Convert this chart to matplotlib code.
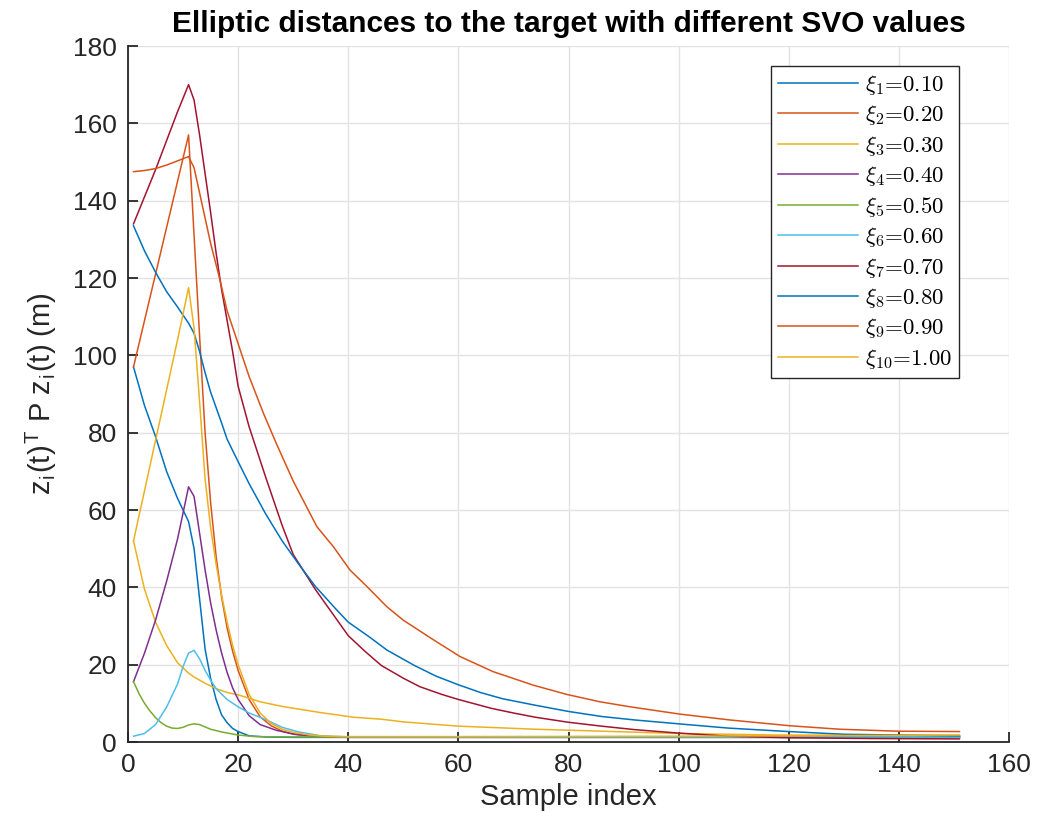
import matplotlib
matplotlib.use("Agg")
import matplotlib.pyplot as plt

# ---------------- data ----------------
labels = [r"$\xi_{1}$=0.10", r"$\xi_{2}$=0.20", r"$\xi_{3}$=0.30", r"$\xi_{4}$=0.40",
          r"$\xi_{5}$=0.50", r"$\xi_{6}$=0.60", r"$\xi_{7}$=0.70", r"$\xi_{8}$=0.80",
          r"$\xi_{9}$=0.90", r"$\xi_{10}$=1.00"]

x1 = [1, 3, 5, 7, 9, 11, 12, 13, 14, 15, 16, 17, 18, 19, 20, 22, 25, 30, 40, 60, 80, 100, 120, 151]
y1 = [97, 87, 79, 70, 63, 57, 50, 37, 24, 16.5, 11, 7, 5, 3.5, 2.7, 1.6, 1.3, 1.2, 1.2, 1.2, 1.2, 1.2, 1.2, 1.2]

x2 = [1, 3, 5, 7, 9, 11, 12, 13, 14, 15, 16, 17, 18, 19, 20, 22, 24, 26, 28, 30, 33, 36, 40, 60, 100, 151]
y2 = [97, 109, 121, 133, 145, 157, 131, 105, 80, 62, 48, 37.5, 29.5, 23.5, 18.5, 11, 6.5, 4.2, 2.8, 2.0,
      1.5, 1.3, 1.2, 1.2, 1.2, 1.2]

x3 = [1, 3, 5, 7, 9, 11, 12, 14, 16, 18, 20, 24, 28, 35, 41, 46, 50, 60, 74, 86, 100, 118, 135, 151]
y3 = [52, 39.5, 31, 25, 20.5, 17.8, 16.8, 15.2, 13.8, 12.8, 12.2, 10.4, 9.2, 7.6, 6.4, 5.9, 5.2, 4.1,
      3.3, 2.8, 2.2, 1.8, 1.7, 1.7]

x4 = [1, 3, 5, 7, 9, 11, 12, 13, 14, 15, 16, 17, 18, 19, 20, 22, 24, 27, 30, 33, 38, 60, 100, 151]
y4 = [15.6, 23, 31.5, 41.5, 52.5, 66, 63.5, 54, 44.5, 36, 29, 23, 18, 14, 11, 6.8, 4.5, 3.0, 2.1, 1.6,
      1.3, 1.3, 1.3, 1.3]

x5 = [1, 2, 3, 4, 5, 6, 7, 8, 9, 10, 11, 12, 13, 14, 15, 17, 20, 23, 30, 60, 100, 151]
y5 = [15.6, 12.5, 10, 8, 6.3, 5, 4.1, 3.6, 3.5, 3.8, 4.4, 4.7, 4.5, 3.9, 3.3, 2.6, 1.8, 1.4, 1.3, 1.3,
      1.3, 1.3]

x6 = [1, 3, 5, 7, 9, 10, 11, 12, 13, 14, 15, 16, 18, 20, 22, 25, 28, 31, 35, 40, 60, 100, 151]
y6 = [1.5, 2.2, 4.5, 9, 15, 19.5, 23, 23.7, 21.5, 18.5, 16, 13.8, 11, 9.1, 7.5, 5.8, 3.8, 2.6, 1.6, 1.3,
      1.3, 1.3, 1.3]

x7 = [1, 3, 5, 7, 9, 11, 12, 13, 14, 15, 16, 17, 18, 19, 20, 22, 25, 28, 30, 34, 36, 40, 43, 46, 50,
      53, 57, 60, 66, 70, 74, 80, 86, 92, 100, 109, 120, 135, 151]
y7 = [134, 141, 148, 155.5, 163, 170, 166, 157, 147, 137, 126.5, 117, 109, 101, 92, 81.5, 68.5, 56, 48.5,
      39.5, 35.5, 27.5, 23.5, 19.8, 16.5, 14.3, 12.3, 11, 8.7, 7.5, 6.4, 5.1, 4.1, 3.2, 2.3, 1.5, 1.1,
      0.9, 0.8]

x8 = [1, 3, 5, 7, 9, 11, 12, 13, 14, 15, 16, 17, 18, 20, 22, 25, 28, 31, 34, 38, 40, 44, 47, 52, 56,
      60, 64, 68, 74, 80, 86, 92, 100, 109, 120, 130, 140, 151]
y8 = [133.5, 127, 121.5, 116.5, 112.5, 108.3, 105.7, 101, 95.5, 90.5, 86.5, 82.5, 78.3, 72.5, 66.8, 59,
      52, 46, 40.3, 34, 31, 27, 23.8, 19.8, 17, 14.8, 12.8, 11.2, 9.5, 7.9, 6.6, 5.7, 4.7, 3.6, 2.7,
      2.0, 1.8, 1.6]

x9 = [1, 3, 5, 7, 9, 11, 12, 13, 14, 15, 16.7, 18, 20, 22, 24.6, 27, 30, 32, 34.3, 37.3, 40.3, 43.4,
      47, 50, 55.5, 60.3, 66.3, 73.6, 79.7, 85.7, 91.2, 100.3, 109.3, 120.2, 129.3, 139.6, 151]
y9 = [147.5, 147.8, 148.3, 149.2, 150.3, 151.4, 148.5, 142, 135.5, 129, 119.5, 111.5, 103, 94.5, 85, 77,
      67.5, 62, 55.7, 50.5, 44.5, 40.2, 35, 31.5, 26.4, 22.1, 18.2, 14.7, 12.3, 10.4, 9.1, 7.2, 5.7,
      4.2, 3.3, 2.8, 2.7]

x10 = [1, 3, 5, 7, 9, 11, 12, 13, 14, 15, 16, 17, 18, 19, 20, 22, 24, 26, 28, 30, 33, 36, 40, 60, 100, 151]
y10 = [52, 65, 78, 91, 104, 117.5, 107, 88, 68, 55.5, 46, 38, 31, 25, 20, 12.3, 7.5, 4.8, 3.3, 2.5, 1.8,
       1.5, 1.4, 1.4, 1.5, 1.8]

xticks = [0, 20, 40, 60, 80, 100, 120, 140, 160]
yticks = [0, 20, 40, 60, 80, 100, 120, 140, 160, 180]

colors = ["#0072BD", "#D95319", "#EDB120", "#7E2F8E", "#77AC30",
          "#4DBEEE", "#A2142F", "#0072BD", "#D95319", "#EDB120"]

# ---------------- plotting ----------------
plt.rcParams["font.family"] = ["Liberation Sans", "DejaVu Sans"]
plt.rcParams["mathtext.fontset"] = "cm"

fig = plt.figure(figsize=(10.37, 8.31), dpi=100)
ax = fig.add_axes([128 / 1037, 1 - 742 / 831, 881 / 1037, 696 / 831])

series = [(x1, y1), (x2, y2), (x3, y3), (x4, y4), (x5, y5),
          (x6, y6), (x7, y7), (x8, y8), (x9, y9), (x10, y10)]
for (xs, ys), c, lab in zip(series, colors, labels):
    ax.plot(xs, ys, color=c, lw=1.1, label=lab)

ax.set_xlim(0, 160)
ax.set_ylim(0, 180)
ax.set_xticks(xticks)
ax.set_yticks(yticks)
ax.grid(True, color="#e3e3e3", lw=1.0)
ax.set_axisbelow(True)

for s in ["top", "right"]:
    ax.spines[s].set_visible(False)
for s in ["left", "bottom"]:
    ax.spines[s].set_color("#262626")
    ax.spines[s].set_linewidth(1.3)
ax.tick_params(direction="in", length=7, width=1.3, colors="#262626",
               labelsize=19, pad=8)
for t in ax.get_xticklabels() + ax.get_yticklabels():
    t.set_color("#262626")

ax.set_xlabel("Sample index", fontsize=21, color="#262626", labelpad=4)
ax.set_ylabel(r"z$_\mathregular{i}$(t)$^\mathregular{T}$ P z$_\mathregular{i}$(t) (m)",
              fontsize=21, color="#262626", labelpad=10)
ax.set_title("Elliptic distances to the target with different SVO values",
             fontsize=21.5, fontweight="bold", pad=10)

leg = ax.legend(loc="upper right", bbox_to_anchor=(0.943, 0.971), borderaxespad=0,
                prop={"family": "cmr10", "size": 16.5}, handlelength=3.5,
                handletextpad=0.3, labelspacing=0.28, borderpad=0.3,
                fancybox=False, framealpha=1, edgecolor="#262626")
leg.get_frame().set_linewidth(1.0)

fig.savefig("out.png", dpi=100)
